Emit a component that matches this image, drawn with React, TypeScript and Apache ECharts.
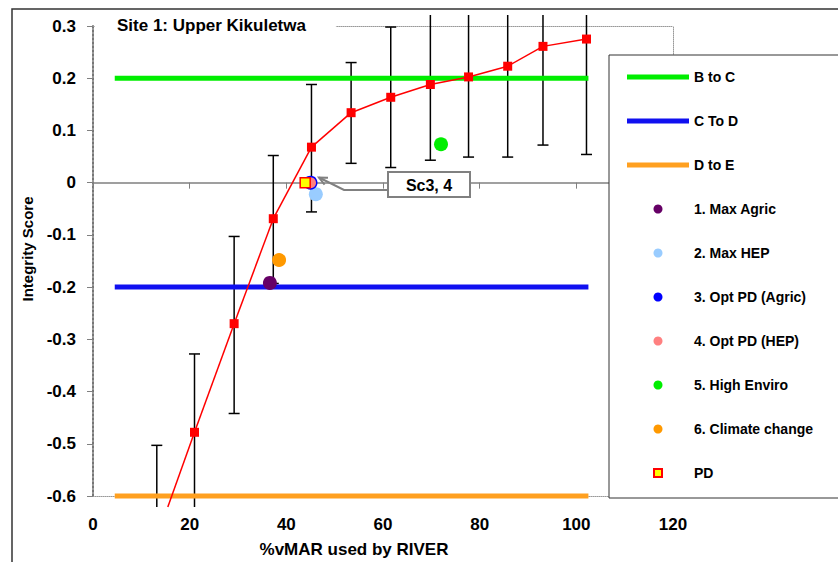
import React, { useEffect, useRef } from 'react';
import * as echarts from 'echarts';

// ---------- data ----------
const redX = [13.2, 21.0, 29.2, 37.3, 45.2, 53.4, 61.6, 69.8, 77.7, 85.8, 93.1, 102.1];
const redY = [-0.68, -0.478, -0.27, -0.069, 0.068, 0.134, 0.1635, 0.188, 0.2025, 0.223, 0.261, 0.275];
const errLow = [-0.857, -0.628, -0.442, -0.193, -0.056, 0.037, 0.029, 0.043, 0.049, 0.049, 0.072, 0.054];
const errHigh = [-0.503, -0.328, -0.103, 0.052, 0.188, 0.23, 0.298, 0.333, 0.356, 0.397, 0.45, 0.496];

const thresholdX = [4.5, 102.5];
const bToC = [0.2, 0.2];
const cToD = [-0.2, -0.2];
const dToE = [-0.6, -0.6];

const scenarioNames = ['1. Max Agric', '2. Max HEP', '3. Opt PD (Agric)', '4. Opt PD (HEP)', '5. High Enviro', '6. Climate change'];
const scenarioX = [36.6, 46.1, 45.0, 45.0, 72.0, 38.5];
const scenarioY = [-0.192, -0.022, 0.0, 0.0, 0.0735, -0.148];

const pdX = [43.9];
const pdY = [0.0];

const xMin = 0, xMax = 120, xInterval = 20;
const yMin = -0.6, yMax = 0.3, yInterval = 0.1;

// ---------- styles ----------
const FONT = '"Liberation Sans", Arial, Helvetica, sans-serif';
const scenarioColors = ['#660066', '#99CCFF', '#0000FF', '#FF8080', '#00EE00', '#FF9900'];
const scenarioSizes = [14, 14, 14, 11, 14, 14];
const LINE_ICON = 'path://M0 0 M0 2 L62 2 L62 7 L0 7 Z M62 9';
const SQUARE_ICON = 'path://M0 0 M27 0.5 L35 0.5 L35 8.5 L27 8.5 Z M62 9';

function clipSegment(a: number[], b: number[], top: number, bottom: number) {
  let t0 = 0, t1 = 1;
  const dy = b[1] - a[1];
  const check = (p: number, q: number) => {
    if (p === 0) return q >= 0;
    const r = q / p;
    if (p < 0) { if (r > t1) return false; if (r > t0) t0 = r; }
    else { if (r < t0) return false; if (r < t1) t1 = r; }
    return true;
  };
  if (!check(-dy, a[1] - top)) return null;
  if (!check(dy, bottom - a[1])) return null;
  return [
    [a[0] + (b[0] - a[0]) * t0, a[1] + dy * t0],
    [a[0] + (b[0] - a[0]) * t1, a[1] + dy * t1],
  ];
}

export default function App() {
  const ref = useRef<HTMLDivElement>(null);
  useEffect(() => {
    const chart = echarts.init(ref.current!, null, { renderer: 'svg' });
    const bandOf = (api: any) => [api.coord([0, yMax])[1] - 11, api.coord([0, yMin])[1] + 11];

    const thresholdSeries = [
      { name: 'B to C', vals: bToC, color: '#00EE00' },
      { name: 'C To D', vals: cToD, color: '#1010F0' },
      { name: 'D to E', vals: dToE, color: '#FFA020' },
    ].map((s) => ({
      name: s.name,
      type: 'line',
      data: thresholdX.map((x, i) => [x, s.vals[i]]),
      symbol: 'none',
      color: s.color,
      lineStyle: { width: 5, color: s.color },
      z: 2,
      clip: false,
    }));

    const scenarioSeries = scenarioNames.map((n, i) => ({
      name: n,
      type: 'scatter',
      data: [[scenarioX[i], scenarioY[i]]],
      symbol: 'circle',
      symbolSize: scenarioSizes[i],
      itemStyle: { color: scenarioColors[i], opacity: 1 },
      z: 4 + (i === 3 ? 1 : 0),
    }));

    const option: any = {
      animation: false,
      backgroundColor: '#fff',
      textStyle: { fontFamily: FONT },
      title: {
        text: 'Site 1: Upper Kikuletwa',
        left: 95,
        top: 12,
        padding: [5, 30, 5, 22],
        backgroundColor: '#fff',
        textStyle: { fontSize: 17, fontWeight: 'bold', color: '#000', fontFamily: FONT },
      },
      grid: { left: 93, right: 165, top: 26, bottom: 66 },
      legend: {
        orient: 'vertical',
        left: 626,
        top: 70,
        padding: 0,
        itemWidth: 62,
        itemHeight: 9,
        itemGap: 30,
        z: 10,
        selectedMode: false,
        textStyle: { fontSize: 14, fontWeight: 'bold', color: '#000', fontFamily: FONT },
        data: [
          { name: 'B to C', icon: LINE_ICON },
          { name: 'C To D', icon: LINE_ICON },
          { name: 'D to E', icon: LINE_ICON },
          ...scenarioNames.map((n) => ({ name: n, icon: 'circle' })),
          { name: 'PD', icon: SQUARE_ICON },
        ],
      },
      xAxis: [
        {
          type: 'value', min: xMin, max: xMax, interval: xInterval, position: 'bottom',
          axisLine: { show: true, onZero: false, lineStyle: { color: '#999', type: 'dotted', width: 1 } },
          axisTick: { show: false },
          splitLine: { show: false },
          axisLabel: { margin: 20, fontSize: 17, fontWeight: 'bold', color: '#000', fontFamily: FONT },
        },
        {
          type: 'value', min: xMin, max: xMax, interval: xInterval, position: 'bottom',
          axisLine: { show: true, onZero: true, lineStyle: { color: '#808080', width: 1.5 } },
          axisTick: { show: true, length: 6, lineStyle: { color: '#808080', width: 1 } },
          axisLabel: { show: false },
          splitLine: { show: false },
        },
        {
          type: 'value', min: xMin, max: xMax, interval: xInterval, position: 'top',
          axisLine: { show: true, onZero: false, lineStyle: { color: '#999', type: 'dotted', width: 1 } },
          axisTick: { show: false },
          axisLabel: { show: false },
          splitLine: { show: false },
        },
      ],
      yAxis: [
        {
          type: 'value', min: yMin, max: yMax, interval: yInterval, position: 'left',
          axisLine: { show: true, onZero: false, lineStyle: { color: '#777', type: 'dotted', width: 2 } },
          axisTick: { show: true, length: 6, lineStyle: { color: '#808080', width: 1 } },
          splitLine: { show: false },
          axisLabel: {
            margin: 17, fontSize: 17, fontWeight: 'bold', color: '#000', fontFamily: FONT,
            formatter: (v: number) => (Math.abs(v) < 1e-9 ? '0' : v.toFixed(1)),
          },
        },
        {
          type: 'value', min: yMin, max: yMax, interval: yInterval, position: 'right',
          axisLine: { show: true, onZero: false, lineStyle: { color: '#999', type: 'dotted', width: 1 } },
          axisTick: { show: false },
          axisLabel: { show: false },
          splitLine: { show: false },
        },
      ],
      series: [
        ...thresholdSeries,
        {
          name: 'errors',
          type: 'custom',
          clip: false,
          z: 2,
          data: redX.map((x, i) => [x, errLow[i], errHigh[i]]),
          encode: { x: 0, y: [1, 2] },
          renderItem: (params: any, api: any) => {
            const [top, bottom] = bandOf(api);
            const x = api.value(0);
            const pLo = api.coord([x, api.value(1)]);
            const pHi = api.coord([x, api.value(2)]);
            const cx = pLo[0];
            const yHi = Math.max(pHi[1], top);
            const yLo = Math.min(pLo[1], bottom);
            const st = { stroke: '#000', lineWidth: 1.5 };
            const children: any[] = [
              { type: 'line', shape: { x1: cx, y1: yHi, x2: cx, y2: yLo }, style: st },
            ];
            if (pHi[1] >= top) children.push({ type: 'line', shape: { x1: cx - 5.5, y1: pHi[1], x2: cx + 5.5, y2: pHi[1] }, style: st });
            if (pLo[1] <= bottom) children.push({ type: 'line', shape: { x1: cx - 5.5, y1: pLo[1], x2: cx + 5.5, y2: pLo[1] }, style: st });
            return { type: 'group', children };
          },
        },
        {
          name: 'curve',
          type: 'custom',
          clip: false,
          z: 3,
          data: redX.map((x, i) => [x, redY[i]]),
          encode: { x: 0, y: 1 },
          renderItem: (params: any, api: any) => {
            const i = params.dataIndex;
            if (i === 0) return null;
            const [top, bottom] = bandOf(api);
            const a = api.coord([redX[i - 1], redY[i - 1]]);
            const b = api.coord([redX[i], redY[i]]);
            const seg = clipSegment(a, b, top, bottom);
            if (!seg) return null;
            return {
              type: 'line',
              shape: { x1: seg[0][0], y1: seg[0][1], x2: seg[1][0], y2: seg[1][1] },
              style: { stroke: '#FF0000', lineWidth: 1.5 },
            };
          },
        },
        {
          name: 'curvePoints',
          type: 'scatter',
          data: redX.map((x, i) => [x, redY[i]]),
          symbol: 'rect',
          symbolSize: 9,
          itemStyle: { color: '#FF0000', opacity: 1 },
          clip: true,
          z: 3,
        },
        ...scenarioSeries,
        {
          name: 'PD',
          type: 'scatter',
          data: pdX.map((x, i) => [x, pdY[i]]),
          symbol: 'rect',
          symbolSize: 10,
          itemStyle: { color: '#FFFF00', borderColor: '#FF0000', borderWidth: 1.5, opacity: 1 },
          z: 6,
        },
      ],
      graphic: [
        {
          type: 'rect', z: 0, silent: true,
          shape: { x: 12, y: 9, width: 1000, height: 1000 },
          style: { fill: 'none', stroke: '#333', lineWidth: 1.5 },
        },
        {
          type: 'rect', z: 9, silent: true,
          shape: { x: 609, y: 55, width: 260, height: 443 },
          style: { fill: '#fff', stroke: '#333', lineWidth: 1 },
        },
        {
          type: 'rect', z: 8, silent: true,
          shape: { x: 388, y: 172, width: 82, height: 25 },
          style: { fill: '#fff', stroke: '#808080', lineWidth: 2 },
        },
        {
          type: 'text', z: 8, silent: true, x: 429, y: 185,
          style: { text: 'Sc3, 4', fontSize: 16, fontWeight: 'bold', fontFamily: FONT, fill: '#000', align: 'center', verticalAlign: 'middle' },
        },
        {
          type: 'polyline', z: 8, silent: true,
          shape: { points: [[387, 190], [344, 190], [319, 177.5]] },
          style: { fill: 'none', stroke: '#808080', lineWidth: 2 },
        },
        {
          type: 'polyline', z: 8, silent: true,
          shape: { points: [[328, 177.8], [319, 177.5], [324.6, 184.6]] },
          style: { fill: 'none', stroke: '#808080', lineWidth: 2 },
        },
        {
          type: 'text', z: 8, silent: true, x: 354, y: 549,
          style: { text: '%vMAR used by RIVER', fontSize: 17, fontWeight: 'bold', fontFamily: FONT, fill: '#000', align: 'center', verticalAlign: 'middle' },
        },
        {
          type: 'text', z: 8, silent: true, x: 27, y: 249, rotation: Math.PI / 2,
          style: { text: 'Integrity Score', fontSize: 15, fontWeight: 'bold', fontFamily: FONT, fill: '#000', align: 'center', verticalAlign: 'middle' },
        },
      ],
    };
    chart.setOption(option);
    return () => chart.dispose();
  }, []);
  return <div ref={ref} style={{ position: 'absolute', left: 0, top: 0, width: 838, height: 562 }} />;
}
